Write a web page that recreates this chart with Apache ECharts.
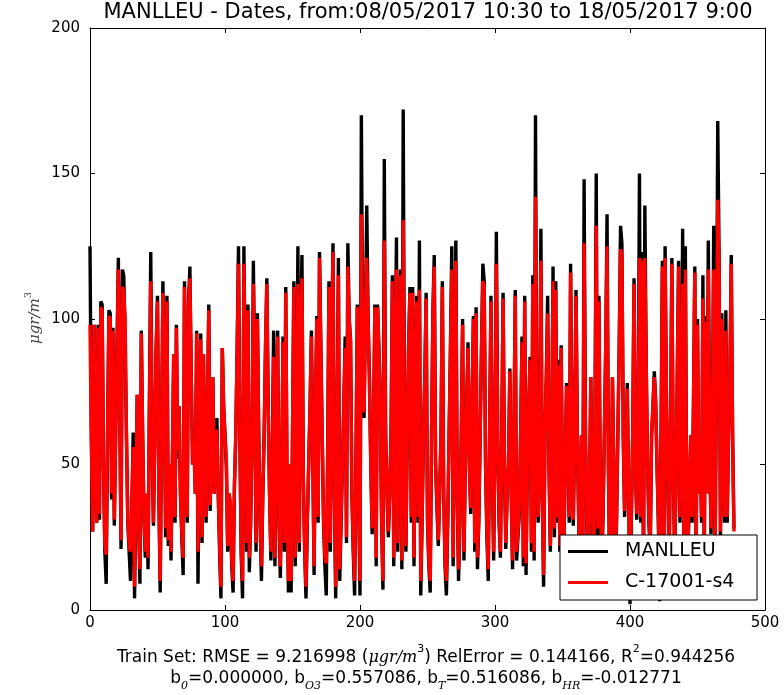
<!DOCTYPE html>
<html>
<head>
<meta charset="utf-8">
<script src="https://cdn.jsdelivr.net/npm/echarts@6/dist/echarts.min.js"></script>
<style>html,body{margin:0;padding:0;background:#fff;}#c{width:784px;height:695px;}</style>
</head>
<body>
<div id="c"></div>
<script>
const chartTitle = 'MANLLEU - Dates, from:08/05/2017 10:30 to 18/05/2017 9:00';
const seriesNames = ['MANLLEU', 'C-17001-s4'];
const xTicks = [0, 100, 200, 300, 400, 500];
const yTicks = [0, 50, 100, 150, 200];

const manlleu = [
125,60,27,98,55,30,98,31,106,105,
50,20,9,60,103,102,38,97,29,60,
90,121,70,21,117,115,93,60,30,20,
10,35,61,4,40,74,30,9,96,60,
30,18,40,14,70,123,60,29,60,90,
108,40,6,60,113,80,25,108,22,50,
17,50,88,30,98,52,70,40,25,12,
113,60,30,106,118,80,50,62,40,96,
9,60,95,23,88,60,30,70,105,34,
60,80,40,50,66,40,20,4,90,70,
60,49,20,40,35,15,6,43,60,90,
125,60,19,4,125,80,20,105,13,30,
60,120,80,20,102,60,30,10,40,60,
90,114,70,40,17,50,96,15,70,96,
30,11,50,94,20,111,40,6,50,6,
60,113,15,60,125,20,90,122,47,20,
4,30,50,70,96,96,12,70,101,30,
123,90,60,30,15,5,50,113,20,90,
126,40,4,60,121,10,30,50,70,94,
23,126,100,93,40,20,5,50,105,40,
5,170,90,66,100,139,100,80,50,26,
60,105,15,105,90,75,30,7,155,60,
40,25,40,60,115,15,80,128,20,90,
117,14,172,60,20,60,90,111,30,111,
15,70,108,30,127,5,30,60,80,109,
30,15,6,60,103,122,50,35,22,40,
60,113,40,15,5,30,60,90,125,15,
80,127,40,10,30,60,100,17,50,70,
92,50,33,70,101,20,104,14,30,60,
90,119,113,50,25,10,60,108,50,17,
60,130,60,30,18,60,109,50,21,40,
50,83,40,14,60,110,17,25,33,60,
94,15,108,12,50,70,87,20,115,17,
170,44,30,60,131,40,8,60,80,108,
50,20,60,118,25,113,30,86,20,91,
40,20,50,78,56,30,119,60,29,60,
110,60,30,10,60,12,148,60,30,10,
39,80,32,15,60,150,25,108,40,15,
31,60,90,136,50,10,24,80,50,15,
29,60,90,132,126,60,32,50,78,40,
2,31,60,114,50,31,60,150,30,123,
10,139,85,50,30,20,60,70,82,72,
50,30,3,60,120,10,125,72,72,15,
60,121,50,20,40,80,120,30,60,131,
10,125,30,20,41,60,30,70,118,15,
100,40,60,30,115,15,101,40,127,60,
26,60,132,15,80,168,121,25,102,50,
30,103,30,60,80,122,60,28
];

const c17001 = [
98,58,27,98,55,30,97,33,104,103,
50,22,19,60,101,100,40,96,31,60,
90,117,70,24,111,110,100,60,32,22,
20,37,56,8,42,74,32,14,95,60,
32,20,40,18,70,113,60,30,60,90,
106,40,10,60,109,80,28,106,24,50,
20,50,88,32,97,55,70,40,27,18,
111,60,32,104,114,80,50,55,40,95,
20,60,93,25,88,60,32,70,103,36,
60,80,40,50,62,40,22,8,90,70,
60,52,22,40,37,17,10,43,60,90,
119,60,21,10,119,80,23,103,18,30,
60,112,80,23,100,60,32,15,40,60,
90,112,70,40,20,50,87,18,70,94,
32,15,50,92,23,109,40,10,50,10,
60,111,18,60,112,23,90,114,45,22,
8,32,50,70,94,94,15,70,100,32,
121,90,60,32,18,16,50,111,23,90,
123,40,8,60,115,14,32,50,70,90,
25,118,100,92,40,22,10,50,104,40,
10,136,90,68,100,121,100,78,50,28,
60,104,18,104,90,72,32,10,127,60,
40,27,40,60,113,18,80,117,23,90,
115,17,134,60,22,60,90,109,32,109,
18,70,106,32,110,10,32,60,80,107,
32,17,10,60,101,118,50,37,24,40,
60,111,40,17,10,32,60,90,117,18,
80,120,40,14,32,60,98,20,50,70,
90,50,35,70,100,23,102,18,32,60,
90,113,111,50,27,14,60,106,50,20,
60,119,60,32,20,60,107,50,23,40,
50,82,40,17,60,108,20,27,35,60,
92,18,106,16,50,70,86,23,112,20,
142,50,32,60,120,40,12,60,80,102,
50,22,60,113,28,110,32,84,22,90,
40,22,50,77,56,32,116,60,31,60,
108,60,32,14,60,15,126,60,32,14,
42,80,34,18,60,132,28,106,40,18,
33,60,90,125,50,14,26,80,50,18,
31,60,90,124,122,60,34,50,76,40,
6,33,60,112,50,33,60,121,32,120,
14,121,84,50,32,22,60,70,80,72,
50,32,8,60,118,14,121,72,72,18,
60,119,50,22,40,80,118,32,60,112,
14,117,32,22,43,60,32,70,116,18,
98,40,60,32,107,18,99,40,117,60,
28,60,117,18,80,141,118,27,100,50,
32,96,32,60,80,119,60,27
];

const chart = echarts.init(document.getElementById('c'), null, {renderer: 'canvas'});
const FONT = '"DejaVu Sans", sans-serif';
const xMin = xTicks[0], xMax = xTicks[xTicks.length - 1], xInt = xTicks[1] - xTicks[0];
const yMin = yTicks[0], yMax = yTicks[yTicks.length - 1], yInt = yTicks[1] - yTicks[0];

function mkX(pos, show) {
  return {
    type: 'value', position: pos, min: xMin, max: xMax, interval: xInt,
    axisLine: {show: true, onZero: false, lineStyle: {color: '#000', width: 1}},
    axisTick: {show: true, inside: true, length: 5, lineStyle: {color: '#000'}},
    axisLabel: {show: show, color: '#000', fontSize: 15, fontFamily: FONT, margin: 6},
    splitLine: {show: false}
  };
}
function mkY(pos, show) {
  return {
    type: 'value', position: pos, min: yMin, max: yMax, interval: yInt,
    axisLine: {show: true, onZero: false, lineStyle: {color: '#000', width: 1}},
    axisTick: {show: true, inside: true, length: 5, lineStyle: {color: '#000'}},
    axisLabel: {show: show, color: '#000', fontSize: 15, fontFamily: FONT, margin: 10},
    splitLine: {show: false}
  };
}

chart.setOption({
  animation: false,
  backgroundColor: '#fff',
  grid: {left: 90, right: 19, top: 28, bottom: 85},
  xAxis: [mkX('bottom', true), mkX('top', false)],
  yAxis: [mkY('left', true), mkY('right', false)],
  legend: {
    orient: 'vertical', left: 560, top: 538, z: 10,
    padding: [4, 4, 4, 8], itemGap: 12,
    backgroundColor: 'transparent', borderWidth: 0,
    itemWidth: 40, itemHeight: 3, icon: 'rect',
    textStyle: {fontSize: 19, fontFamily: FONT, color: '#000', padding: [0, 0, 0, 12]},
    data: seriesNames
  },
  series: [
    {name: seriesNames[0], type: 'line', showSymbol: false, symbol: 'none',
     data: manlleu.map((v, i) => [i, v]), xAxisIndex: 0, yAxisIndex: 0,
     lineStyle: {color: '#000', width: 3.4}, itemStyle: {color: '#000'}, z: 2},
    {name: seriesNames[1], type: 'line', showSymbol: false, symbol: 'none',
     data: c17001.map((v, i) => [i, v]), xAxisIndex: 0, yAxisIndex: 0,
     lineStyle: {color: '#ff0000', width: 3.4}, itemStyle: {color: '#ff0000'}, z: 2}
  ],
  graphic: [
    {type: 'rect', z: 8, shape: {x: 560, y: 535, width: 197, height: 65},
     style: {fill: '#fff', stroke: '#000', lineWidth: 1}},
    {type: 'text', x: 428, y: 13, style: {text: chartTitle, font: '21px "DejaVu Sans"', fill: '#000', textAlign: 'center', textVerticalAlign: 'middle'}},
    {type: 'text', x: 33, y: 318, rotation: Math.PI / 2,
     style: {text: '{i|μgr/m}{s|3}', textAlign: 'center', textVerticalAlign: 'middle', fill: '#444',
       rich: {i: {fontSize: 15, fontStyle: 'italic', fontFamily: '"DejaVu Serif"', fill: '#444', lineHeight: 20, verticalAlign: 'bottom'},
              s: {fontSize: 10, fontFamily: '"DejaVu Serif"', fill: '#444', lineHeight: 20, verticalAlign: 'top'}}}},
    {type: 'text', x: 426, y: 655,
     style: {text: '{n|Train Set: RMSE = 9.216998 (}{i|μgr/m}{s|3}{n|) RelError = 0.144166, R}{s|2}{n|=0.944256}',
       textAlign: 'center', textVerticalAlign: 'middle', fill: '#000',
       rich: {n: {fontSize: 17, fontFamily: '"DejaVu Sans"', fill: '#000', lineHeight: 22, verticalAlign: 'bottom'},
              i: {fontSize: 16, fontStyle: 'italic', fontFamily: '"DejaVu Serif"', fill: '#000', lineHeight: 22, verticalAlign: 'bottom'},
              s: {fontSize: 11, fontFamily: '"DejaVu Sans"', fill: '#000', lineHeight: 22, verticalAlign: 'top'}}}},
    {type: 'text', x: 426, y: 681,
     style: {text: '{n|b}{b|0}{n|=0.000000, b}{b|O3}{n|=0.557086, b}{b|T}{n|=0.516086, b}{b|HR}{n|=-0.012771}',
       textAlign: 'center', textVerticalAlign: 'middle', fill: '#000',
       rich: {n: {fontSize: 17, fontFamily: '"DejaVu Sans"', fill: '#000', lineHeight: 22, verticalAlign: 'top'},
              b: {fontSize: 11, fontStyle: 'italic', fontFamily: '"DejaVu Serif"', fill: '#000', lineHeight: 22, verticalAlign: 'bottom'}}}}
  ]
});
</script>
</body>
</html>
